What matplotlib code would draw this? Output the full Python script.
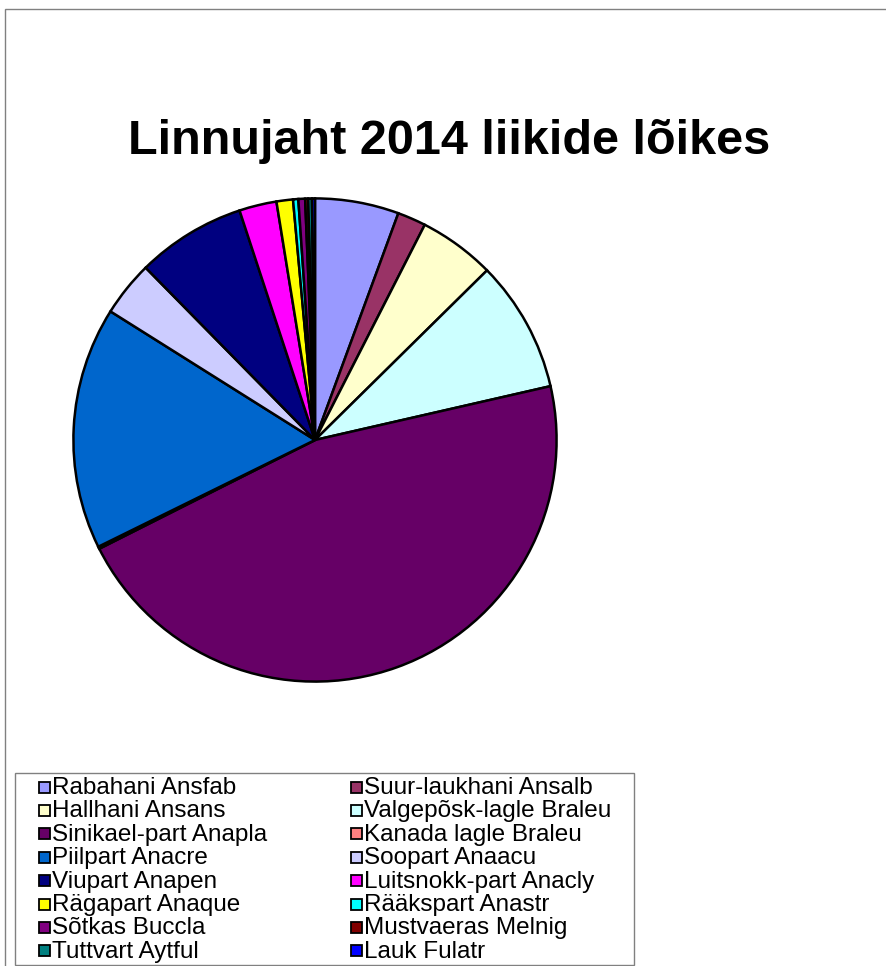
import matplotlib.pyplot as plt
from matplotlib.patches import Rectangle

plt.rcParams['font.family'] = ['Liberation Sans', 'DejaVu Sans']

# species and their share of the 2014 bag (%)
species = ['Rabahani Ansfab', 'Suur-laukhani Ansalb', 'Hallhani Ansans',
           'Valgepõsk-lagle Braleu', 'Sinikael-part Anapla', 'Kanada lagle Braleu',
           'Piilpart Anacre', 'Soopart Anaacu', 'Viupart Anapen',
           'Luitsnokk-part Anacly', 'Rägapart Anaque', 'Rääkspart Anastr',
           'Sõtkas Buccla', 'Mustvaeras Melnig', 'Tuttvart Aytful', 'Lauk Fulatr']
shares = [5.6, 1.9, 5.1, 8.8, 46.1, 0.15, 16.2, 3.7, 7.3, 2.5, 1.1, 0.35,
          0.45, 0.2, 0.25, 0.2]
colors = ['#9999FF', '#993366', '#FFFFCC', '#CCFFFF', '#660066', '#FF8080',
          '#0066CC', '#CCCCFF', '#000080', '#FF00FF', '#FFFF00', '#00FFFF',
          '#800080', '#800000', '#008080', '#0000FF']

W, H = 886, 966
fig = plt.figure(figsize=(W / 100, H / 100), dpi=100)

# outer chart border
fig.patches.append(Rectangle((5 / W, -0.01), 1.0, 1 - 9 / H + 0.01,
                             transform=fig.transFigure, fill=False,
                             edgecolor='#808080', linewidth=1))

fig.text(449 / W, 1 - 141 / H, 'Linnujaht 2014 liikide lõikes',
         ha='center', va='center', fontsize=35, fontweight='bold')

# pie
cx, cy, r = 315, 440, 244
ax = fig.add_axes([(cx - r) / W, (H - cy - r) / H, 2 * r / W, 2 * r / H])
ax.pie(shares, colors=colors, startangle=90, counterclock=False,
       wedgeprops=dict(edgecolor='black', linewidth=1.8))
ax.set_xlim(-1.01, 1.01)
ax.set_ylim(-1.01, 1.01)
ax.set_aspect('equal')
ax.axis('off')

# legend box, filled row by row
fig.patches.append(Rectangle((15 / W, 1 - 965 / H), 619 / W, 192 / H,
                             transform=fig.transFigure, fill=False,
                             edgecolor='#808080', linewidth=1))
col_x = [39, 351]
for i, (name, c) in enumerate(zip(species, colors)):
    row, col = divmod(i, 2)
    y = 787 + row * 23.4
    fig.patches.append(Rectangle((col_x[col] / W, 1 - (y + 5.5) / H), 11 / W, 11 / H,
                                 transform=fig.transFigure, facecolor=c,
                                 edgecolor='black', linewidth=1.3))
    fig.text((col_x[col] + 13) / W, 1 - (y + 1) / H, name, ha='left', va='center',
             fontsize=17.5)

fig.savefig('out.png', dpi=100)
